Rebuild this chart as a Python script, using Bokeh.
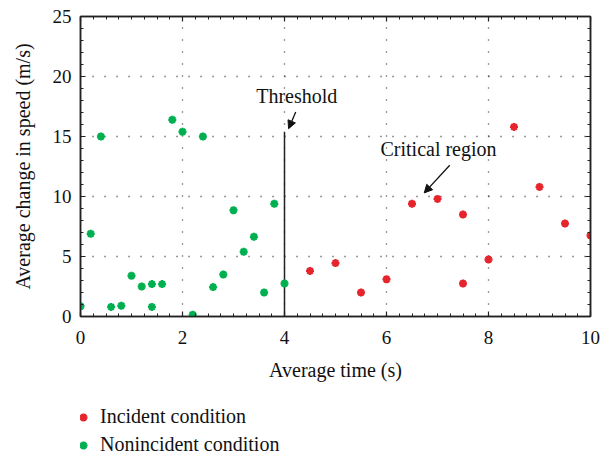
from bokeh.plotting import figure
from bokeh.layouts import column
from bokeh.models import (LinearAxis, Range1d, Label, Arrow, NormalHead, Legend,
                          LegendItem, FixedTicker, CustomJSTickFormatter)
from bokeh.embed import file_html
from bokeh.resources import INLINE

# Nonincident condition samples
non_t = [0.0, 0.2, 0.4, 0.6, 0.8, 1.0, 1.2, 1.4, 1.4, 1.6, 1.8, 2.0, 2.2, 2.4,
         2.6, 2.8, 3.0, 3.2, 3.4, 3.6, 3.8, 4.0]
non_v = [0.85, 6.9, 15.0, 0.8, 0.9, 3.4, 2.5, 2.7, 0.8, 2.7, 16.4, 15.4, 0.15,
         15.0, 2.45, 3.5, 8.85, 5.4, 6.65, 2.0, 9.4, 2.75]

# Incident condition samples
inc_t = [4.5, 5.0, 5.5, 6.0, 6.5, 7.0, 7.5, 7.5, 8.0, 8.5, 9.0, 9.5, 10.0]
inc_v = [3.8, 4.45, 2.0, 3.1, 9.4, 9.8, 8.5, 2.75, 4.75, 15.8, 10.8, 7.75, 6.75]

threshold_t = 4.0
threshold_top = 15.4

x_ticks = [0, 2, 4, 6, 8, 10]
y_ticks = [0, 5, 10, 15, 20, 25]

series_labels = ["Incident condition", "Nonincident condition"]

RED = "#e5242b"
GREEN = "#00b050"
FONT = "Liberation Serif"

p = figure(width=612, height=400, output_backend="svg", toolbar_location=None,
           x_range=Range1d(0, 10), y_range=Range1d(0, 25),
           x_axis_label="Average time (s)",
           y_axis_label="Average change in speed (m/s)",
           min_border_left=80, min_border_right=22, min_border_top=16,
           min_border_bottom=84)
p.frame_width = 510
p.frame_height = 300
p.background_fill_color = "white"
p.border_fill_color = "white"
p.outline_line_color = "#222222"
p.outline_line_width = 1.5

def style_axis(ax, ticks, minor, labels=True):
    ax.ticker = FixedTicker(ticks=ticks, minor_ticks=minor)
    ax.axis_line_color = "#222222"
    ax.axis_line_width = 1.5
    ax.major_tick_in = 5
    ax.major_tick_out = 0
    ax.minor_tick_in = 3
    ax.minor_tick_out = 0
    ax.major_tick_line_color = "#222222"
    ax.minor_tick_line_color = "#222222"
    ax.major_tick_line_width = 1.2
    ax.minor_tick_line_width = 1
    if labels:
        ax.major_label_text_font = FONT
        ax.major_label_text_font_size = "19px"
        ax.major_label_text_color = "#111111"
        ax.axis_label_text_font = FONT
        ax.axis_label_text_font_size = "20px"
        ax.axis_label_text_font_style = "normal"
        ax.axis_label_text_color = "#111111"
    else:
        # tick marks only on the mirrored axes
        ax.formatter = CustomJSTickFormatter(code="return '';")
        ax.major_label_standoff = 0
        ax.major_label_text_font_size = "10px"

x_minor = [i * 0.25 for i in range(41)]
y_minor = list(range(26))

style_axis(p.xaxis[0], x_ticks, x_minor)
style_axis(p.yaxis[0], y_ticks, y_minor)
p.xaxis[0].major_label_standoff = 14
p.xaxis[0].axis_label_standoff = 12
p.yaxis[0].major_label_standoff = 9
p.yaxis[0].axis_label_standoff = 16

top_ax = LinearAxis()
right_ax = LinearAxis()
style_axis(top_ax, x_ticks, x_minor, labels=False)
style_axis(right_ax, y_ticks, y_minor, labels=False)
p.add_layout(top_ax, "above")
p.add_layout(right_ax, "right")

for g, ticks in ((p.xgrid[0], [2, 4, 6, 8]), (p.ygrid[0], [5, 10, 15, 20])):
    g.ticker = FixedTicker(ticks=ticks)
    g.grid_line_color = "#333333"
    g.grid_line_width = 1.3
    g.grid_line_dash = "1 11"

# threshold line
p.segment(x0=[threshold_t], y0=[0], x1=[threshold_t], y1=[threshold_top],
          line_color="#222222", line_width=1.5)

marker_style = dict(marker="asterisk", size=8, line_width=2.4)
p.scatter(inc_t, inc_v, line_color=RED, **marker_style)
p.scatter(non_t, non_v, line_color=GREEN, **marker_style)

# annotations
p.add_layout(Label(x=4.24, y=18.35, text="Threshold", text_font=FONT,
                   text_font_size="20px", text_align="center",
                   text_baseline="middle", text_color="#111111"))
p.add_layout(Arrow(x_start=4.22, y_start=17.05, x_end=4.08, y_end=15.65,
                   line_width=1.3, line_color="#111111",
                   end=NormalHead(size=8, fill_color="#111111",
                                  line_color="#111111")))
p.add_layout(Label(x=7.02, y=13.95, text="Critical region", text_font=FONT,
                   text_font_size="20px", text_align="center",
                   text_baseline="middle", text_color="#111111"))
p.add_layout(Arrow(x_start=7.24, y_start=12.6, x_end=6.74, y_end=10.3,
                   line_width=1.3, line_color="#111111",
                   end=NormalHead(size=8, fill_color="#111111",
                                  line_color="#111111")))

# legend strip under the chart; its own copies of the series sit out of view
leg = figure(width=612, height=55, output_backend="svg", toolbar_location=None,
             x_range=Range1d(-100, -99), y_range=Range1d(-100, -99),
             min_border=0, x_axis_location=None, y_axis_location=None)
leg.outline_line_color = None
leg.grid.visible = False
k_inc = leg.scatter(inc_t, inc_v, line_color=RED, **marker_style)
k_non = leg.scatter(non_t, non_v, line_color=GREEN, **marker_style)
legend = Legend(items=[LegendItem(label=series_labels[0], renderers=[k_inc]),
                       LegendItem(label=series_labels[1], renderers=[k_non])],
                location=(-7, -1), orientation="vertical",
                label_text_font=FONT, label_text_font_size="20px",
                label_text_color="#111111", border_line_color=None,
                background_fill_alpha=0, glyph_width=20, glyph_height=20,
                label_standoff=7, spacing=5, padding=0, margin=0,
                label_height=20)
leg.add_layout(legend)

layout = column(p, leg, spacing=0)
open("out.html", "w").write(file_html(layout, INLINE))
